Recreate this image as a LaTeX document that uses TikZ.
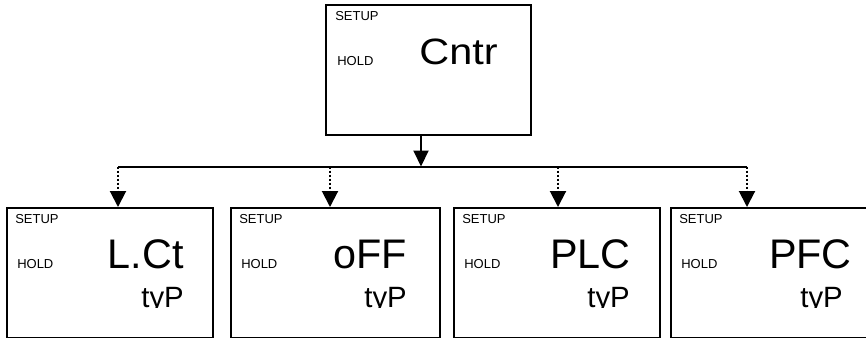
\documentclass[tikz,border=0pt]{standalone}
\usepackage{fontspec}
\setmainfont{Liberation Sans}
\usetikzlibrary{arrows.meta,calc}
\newdimen\px \px=0.75pt
\begin{document}
\begin{tikzpicture}[x=0.75pt,y=-0.75pt,
  box/.style={draw,line width=1.5pt,rectangle,inner sep=0pt,anchor=north west,minimum height=130\px},
  small/.style={font=\fontsize{9.75}{10}\selectfont,inner sep=0pt,anchor=base west},
  big/.style={font=\fontsize{31}{31}\selectfont,inner sep=0pt,anchor=base east},
  typ/.style={font=\fontsize{22}{22}\selectfont,inner sep=0pt,anchor=base east},
  line/.style={line width=1.5pt},
  arr/.style={line width=1.5pt,-{Triangle[length=12pt,width=11.25pt]}},
  dotarr/.style={line width=1.5pt,dash pattern=on 1.5pt off 1.5pt,-{Triangle[length=12pt,width=12pt]}}]
\useasboundingbox (0,0) rectangle (866,337);
\clip (0,0) rectangle (866,337);
% top box
\node[box,minimum width=205\px] (top) at (325,4) {};
\node[small] (tsetup) at (335,20) {SETUP};
\node[small] (thold) at (337,65) {HOLD};
\node[font=\fontsize{27.5}{27.5}\selectfont,inner sep=0pt,anchor=base east,xscale=1.13] (tcntr) at (498,64.5) {Cntr};
% bottom boxes
\node[box,minimum width=206\px] (b1) at (6,207) {};
\node[box,minimum width=209\px] (b2) at (230,207) {};
\node[box,minimum width=206\px] (b3) at (453,207) {};
\node[box,minimum width=206\px] (b4) at (670,207) {};
% texts
\node[small] (s1) at (15,223) {SETUP};
\node[small] (h1) at (17,268) {HOLD};
\node[big] (v1) at (184,268.5) {L.Ct};
\node[small] (s2) at (239,223) {SETUP};
\node[small] (h2) at (241,268) {HOLD};
\node[big] (v2) at (407,268.5) {oFF};
\node[small] (s3) at (462,223) {SETUP};
\node[small] (h3) at (464,268) {HOLD};
\node[big] (v3) at (631,268.5) {PLC};
\node[small] (s4) at (679,223) {SETUP};
\node[small] (h4) at (681,268) {HOLD};
\node[big] (v4) at (852,268.5) {PFC};
\begin{scope}
\clip (0,207) rectangle (866,307);
\node[typ] (t1) at (184,307) {tyP};
\node[typ] (t2) at (407,307) {tyP};
\node[typ] (t3) at (630,307) {tyP};
\node[typ] (t4) at (843,307) {tyP};
\end{scope}
% connectors
\coordinate (j0) at (421,166.5);
\coordinate (j1) at (118,166.5);
\coordinate (j2) at (330,166.5);
\coordinate (j3) at (558,166.5);
\coordinate (j4) at (747,166.5);
\draw[line] (j1) -- (j4);
\draw[arr] (top.south -| j0) -- (j0);
\draw[dotarr] (j1) -- (j1 |- b1.north);
\draw[dotarr] (j2) -- (j2 |- b2.north);
\draw[dotarr] (j3) -- (j3 |- b3.north);
\draw[dotarr] (j4) -- (j4 |- b4.north);
\end{tikzpicture}
\end{document}
